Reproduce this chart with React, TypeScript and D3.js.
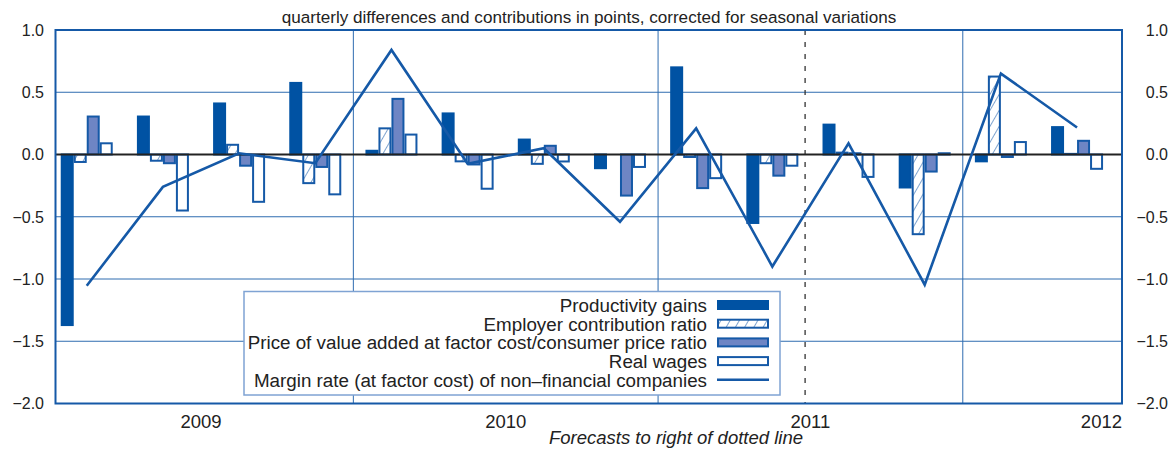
import React, { useEffect, useRef } from "react";
import * as d3 from "d3";

// quarters 2009Q1 .. 2012Q2
const quarters = [
  "2009Q1", "2009Q2", "2009Q3", "2009Q4",
  "2010Q1", "2010Q2", "2010Q3", "2010Q4",
  "2011Q1", "2011Q2", "2011Q3", "2011Q4",
  "2012Q1", "2012Q2",
];

const productivity = [-1.37, 0.305, 0.41, 0.575, 0.03, 0.33, 0.12, -0.11, 0.7, -0.55, 0.24, -0.265, -0.055, 0.22];
const employerContrib = [-0.06, -0.05, 0.078, -0.23, 0.21, -0.055, -0.075, 0.0, -0.02, -0.07, 0.015, -0.64, 0.626, 0.005];
const priceRatio = [0.305, -0.07, -0.09, -0.1, 0.447, -0.08, 0.07, -0.33, -0.27, -0.17, 0.01, -0.137, -0.02, 0.11];
const realWages = [0.09, -0.45, -0.38, -0.32, 0.16, -0.275, -0.056, -0.1, -0.19, -0.09, -0.18, 0.01, 0.1, -0.115];
const marginRate = [-1.054, -0.26, 0.01, -0.07, 0.84, -0.075, 0.05, -0.54, 0.21, -0.9, 0.09, -1.046, 0.65, 0.217];

const yTicks = [1.0, 0.5, 0.0, -0.5, -1.0, -1.5, -2.0];
const years = ["2009", "2010", "2011", "2012"];
const yearLabelPos = [1.5, 5.5, 9.5, 13.59];
const yearBounds = [3.5, 7.5, 11.5];
const forecastAt = 9.43;

const seriesNames = [
  "Productivity gains",
  "Employer contribution ratio",
  "Price of value added at factor cost/consumer price ratio",
  "Real wages",
];
const lineName = "Margin rate (at factor cost) of non\u2013financial companies";

const title = "quarterly differences and contributions in points, corrected for seasonal variations";
const footnote = "Forecasts to right of dotted line";

const W = 1171;
const H = 450;
const BLUE = "#1559a7";
const DARK = "#0052a3";
const MID = "#6e85c4";
const GRID = "#2f6cb0";
const FONT = "'Liberation Sans', Arial, sans-serif";

const fmt = (v: number) => d3.format(".1f")(v).replace("-", "\u2013");

export default function App() {
  const ref = useRef<SVGSVGElement>(null);

  useEffect(() => {
    const svg = d3.select(ref.current);
    svg.selectAll("*").remove();

    const left = 55.5, right = 1122, top = 30, bottom = 403.5;
    const x = d3.scaleLinear().domain([-0.41, 13.59]).range([left, right]);
    const y = d3.scaleLinear().domain([-2, 1]).range([bottom, top]);
    const sub = d3.scaleBand().domain(["p", "e", "r", "w"]).range([-26, 26]).padding(0);

    const defs = svg.append("defs");
    const pat = defs.append("pattern")
      .attr("id", "hatch")
      .attr("patternUnits", "userSpaceOnUse")
      .attr("width", 8)
      .attr("height", 8)
      .attr("patternTransform", "rotate(30)");
    pat.append("rect").attr("width", 8).attr("height", 8).attr("fill", "#fff");
    pat.append("line").attr("x1", 0).attr("y1", 0).attr("x2", 0).attr("y2", 8)
      .attr("stroke", BLUE).attr("stroke-width", 1.1);

    // title
    svg.append("text")
      .attr("x", 589).attr("y", 23)
      .attr("text-anchor", "middle")
      .attr("font-size", 17.1)
      .attr("fill", "#222")
      .text(title);

    // gridlines
    svg.append("g").selectAll("line")
      .data(yTicks.filter((t) => t !== 0 && t !== 1 && t !== -2))
      .join("line")
      .attr("x1", left).attr("x2", right)
      .attr("y1", (d) => y(d)).attr("y2", (d) => y(d))
      .attr("stroke", GRID).attr("stroke-width", 1);

    svg.append("g").selectAll("line")
      .data(yearBounds)
      .join("line")
      .attr("x1", (d) => x(d)).attr("x2", (d) => x(d))
      .attr("y1", top).attr("y2", bottom)
      .attr("stroke", GRID).attr("stroke-width", 1);

    // forecast divider
    svg.append("line")
      .attr("x1", x(forecastAt)).attr("x2", x(forecastAt))
      .attr("y1", top).attr("y2", bottom)
      .attr("stroke", "#333").attr("stroke-width", 1.3)
      .attr("stroke-dasharray", "5,7");

    // tick labels both sides
    const tl = svg.append("g").attr("font-size", 16).attr("fill", "#222");
    tl.selectAll("text.l").data(yTicks).join("text")
      .attr("class", "l")
      .attr("x", 44).attr("y", (d) => y(d)).attr("dy", "0.36em")
      .attr("text-anchor", "end")
      .text((d) => fmt(d));
    tl.selectAll("text.r").data(yTicks).join("text")
      .attr("class", "r")
      .attr("x", 1168).attr("y", (d) => y(d)).attr("dy", "0.36em")
      .attr("text-anchor", "end")
      .text((d) => fmt(d));

    // bars
    const barSets = [
      { key: "p", vals: productivity, fill: DARK, stroke: DARK },
      { key: "e", vals: employerContrib, fill: "url(#hatch)", stroke: BLUE },
      { key: "r", vals: priceRatio, fill: MID, stroke: BLUE },
      { key: "w", vals: realWages, fill: "#fff", stroke: BLUE },
    ];
    const bw = sub.bandwidth();
    barSets.forEach((s) => {
      svg.append("g").selectAll("rect")
        .data(s.vals)
        .join("rect")
        .attr("x", (d, i) => x(i) + (sub(s.key) as number) + 1)
        .attr("y", (d) => y(Math.max(0, d)))
        .attr("width", bw - 2)
        .attr("height", (d) => Math.abs(y(d) - y(0)))
        .attr("fill", s.fill)
        .attr("stroke", s.stroke)
        .attr("stroke-width", 2);
    });

    // zero line
    svg.append("line")
      .attr("x1", left).attr("x2", right)
      .attr("y1", y(0)).attr("y2", y(0))
      .attr("stroke", "#222").attr("stroke-width", 2);

    // margin rate line
    const line = d3.line<number>().x((d, i) => x(i)).y((d) => y(d));
    svg.append("path")
      .datum(marginRate)
      .attr("d", line)
      .attr("fill", "none")
      .attr("stroke", BLUE)
      .attr("stroke-width", 2.6);

    // frame
    svg.append("rect")
      .attr("x", left).attr("y", top)
      .attr("width", right - left).attr("height", bottom - top)
      .attr("fill", "none").attr("stroke", BLUE).attr("stroke-width", 2);

    // year labels
    svg.append("g").selectAll("text")
      .data(years)
      .join("text")
      .attr("x", (d, i) => x(yearLabelPos[i]))
      .attr("y", 428)
      .attr("text-anchor", (d, i) => (i === years.length - 1 ? "end" : "middle"))
      .attr("font-size", 18.5)
      .attr("fill", "#222")
      .text((d) => d);

    svg.append("text")
      .attr("x", 676).attr("y", 444)
      .attr("text-anchor", "middle")
      .attr("font-size", 18.5)
      .attr("font-style", "italic")
      .attr("fill", "#222")
      .text(footnote);

    // legend
    const lg = svg.append("g");
    lg.append("rect")
      .attr("x", 244).attr("y", 291.5)
      .attr("width", 536).attr("height", 103.5)
      .attr("fill", "#fff").attr("stroke", "#7fa3d3").attr("stroke-width", 1.5);
    const rows = [...seriesNames, lineName];
    rows.forEach((name, i) => {
      const by = 312 + i * 18.7;
      lg.append("text")
        .attr("x", 707).attr("y", by)
        .attr("text-anchor", "end")
        .attr("font-size", 18.8)
        .attr("fill", "#222")
        .text(name);
      if (i < 4) {
        const s = barSets[i];
        lg.append("rect")
          .attr("x", 718).attr("y", by - 11)
          .attr("width", 50).attr("height", 8)
          .attr("fill", s.fill).attr("stroke", s.stroke).attr("stroke-width", 2);
      } else {
        lg.append("line")
          .attr("x1", 717).attr("x2", 769)
          .attr("y1", by - 7).attr("y2", by - 7)
          .attr("stroke", BLUE).attr("stroke-width", 2.6);
      }
    });
  }, []);

  return (
    <svg ref={ref} width={W} height={H} style={{ position: "absolute", left: 0, top: 0, fontFamily: FONT }} />
  );
}
